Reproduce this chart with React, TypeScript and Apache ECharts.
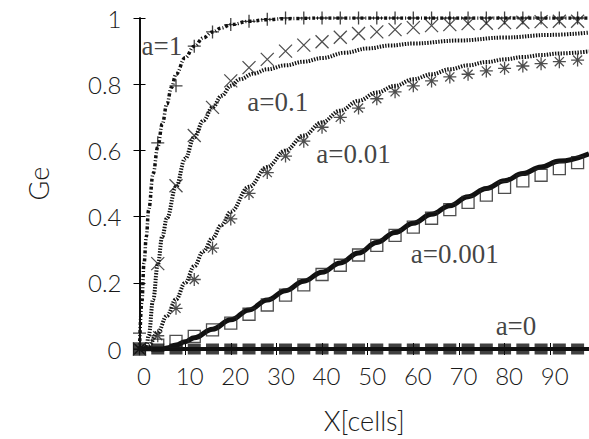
import React, { useEffect, useRef } from "react";
import * as echarts from "echarts";

// Simulation sample positions (cells)
const markerX = [0, 4, 8, 12, 16, 20, 24, 28, 32, 36, 40, 44, 48, 52, 56, 60, 64, 68, 72, 76, 80, 84, 88, 92, 96];

// Simulation markers
const simA1 = [0.048, 0.623, 0.795, 0.915, 0.958, 0.98, 0.99, 0.996, 1, 1, 1, 1, 1, 1, 1, 1, 1, 1, 1, 1, 1, 1, 1, 1, 1];
const simA01 = [0, 0.258, 0.493, 0.645, 0.73, 0.81, 0.85, 0.875, 0.9, 0.918, 0.928, 0.942, 0.953, 0.958, 0.965, 0.971, 0.977, 0.98, 0.983, 0.984, 0.986, 0.987, 0.989, 0.99, 0.99];
const simA001 = [0, 0.04, 0.123, 0.21, 0.305, 0.393, 0.47, 0.533, 0.583, 0.628, 0.67, 0.7, 0.728, 0.756, 0.777, 0.795, 0.81, 0.822, 0.83, 0.84, 0.848, 0.855, 0.862, 0.868, 0.873];
const simA0001 = [0, 0.012, 0.023, 0.038, 0.058, 0.078, 0.105, 0.133, 0.163, 0.194, 0.225, 0.253, 0.284, 0.313, 0.343, 0.368, 0.395, 0.421, 0.443, 0.465, 0.488, 0.508, 0.525, 0.545, 0.563];
const simA0 = [0, 0, 0, 0, 0, 0, 0, 0, 0, 0, 0, 0, 0, 0, 0, 0, 0, 0, 0, 0, 0, 0, 0, 0, 0];

// Model curves
const modelA1X = [0, 0.5, 1, 1.5, 2, 3, 4, 5, 6, 7, 8, 10, 12, 14, 16, 18, 20, 24, 28, 32, 40, 60, 98.5];
const modelA1Y = [0, 0.14, 0.26, 0.34, 0.42, 0.53, 0.61, 0.68, 0.74, 0.79, 0.83, 0.88, 0.915, 0.94, 0.958, 0.97, 0.98, 0.99, 0.995, 0.998, 1, 1, 1];

const modelA01X = [0, 1, 1.5, 2, 3, 4, 5, 6, 8, 10, 12, 14, 16, 18, 20, 22, 25, 28, 32, 36, 40, 45, 50, 55, 60, 70, 80, 90, 98.5];
const modelA01Y = [0, 0, 0.005, 0.04, 0.15, 0.255, 0.34, 0.395, 0.49, 0.575, 0.64, 0.69, 0.73, 0.765, 0.795, 0.815, 0.832, 0.845, 0.857, 0.868, 0.879, 0.895, 0.908, 0.917, 0.923, 0.932, 0.941, 0.949, 0.956];

const modelA001X = [0, 1.5, 2, 4, 6, 8, 10, 12, 14, 16, 18, 20, 24, 28, 32, 36, 40, 44, 48, 52, 56, 60, 64, 68, 72, 76, 80, 84, 88, 92, 98.5];
const modelA001Y = [0, 0, 0.01, 0.05, 0.1, 0.15, 0.2, 0.25, 0.295, 0.335, 0.375, 0.415, 0.49, 0.55, 0.6, 0.645, 0.685, 0.72, 0.75, 0.775, 0.795, 0.815, 0.83, 0.845, 0.857, 0.867, 0.875, 0.882, 0.888, 0.893, 0.899];

const modelA0001X = [0, 5, 6, 8, 10, 12, 16, 20, 24, 28, 32, 36, 40, 44, 48, 52, 56, 60, 64, 68, 72, 76, 80, 84, 88, 92, 98.5];
const modelA0001Y = [0, 0, 0.003, 0.012, 0.022, 0.034, 0.06, 0.088, 0.118, 0.148, 0.176, 0.205, 0.232, 0.26, 0.29, 0.322, 0.352, 0.38, 0.407, 0.433, 0.46, 0.485, 0.508, 0.53, 0.55, 0.568, 0.59];

const modelA0X = [0, 98.5];
const modelA0Y = [0, 0];

// Curve annotations (label text, anchor in data coords)
const annotationText = ["a=1", "a=0.1", "a=0.01", "a=0.001", "a=0"];
const annotationX = [4.9, 30.3, 46.9, 69.1, 82.5];
const annotationY = [0.914, 0.745, 0.589, 0.288, 0.069];

const xTitle = "X[cells]";
const yTitle = "Ge";

const zip = (xs: number[], ys: number[]) => xs.map((x, i) => [x, ys[i]]);

const PLUS = "path://M0,5L10,5M5,0L5,10";
const CROSS = "path://M0,0L10,10M10,0L0,10";
const STAR = "path://M0,5L10,5M5,0L5,10M1.5,1.5L8.5,8.5M8.5,1.5L1.5,8.5";

export default function App() {
  const ref = useRef<HTMLDivElement>(null);
  useEffect(() => {
    if (!ref.current) return;
    const chart = echarts.init(ref.current, null, { renderer: "svg" });
    const sansFont = { fontFamily: "Lato", fontWeight: 300, color: "#1a1a1a" };
    const lineSeries = (data: number[][], lineStyle: any, z = 2) => ({
      type: "line",
      data,
      showSymbol: false,
      symbol: "none",
      smooth: 0.4,
      smoothMonotone: "x",
      lineStyle: { color: "#111", ...lineStyle },
      z,
      silent: true,
    });
    const markerSeries = (data: number[][], symbol: string, size: any, itemStyle: any, z = 3) => ({
      type: "scatter",
      data,
      symbol,
      symbolSize: size,
      itemStyle,
      z,
      silent: true,
    });
    chart.setOption({
      animation: false,
      backgroundColor: "#fff",
      grid: { left: 139.5, top: 18, width: 454, height: 333, containLabel: false },
      xAxis: [
        {
          type: "value",
          min: 0,
          max: 98.5,
          interval: 10,
          position: "bottom",
          name: xTitle,
          nameLocation: "middle",
          nameGap: 58,
          nameTextStyle: { ...sansFont, fontSize: 27 },
          axisLine: { show: true, lineStyle: { color: "#000", width: 1.5 } },
          axisTick: { show: true, inside: true, length: 6, lineStyle: { color: "#000" } },
          axisLabel: { ...sansFont, fontSize: 24, margin: 14, showMaxLabel: false, padding: [0, 0, 0, 9] },
          splitLine: { show: false },
        },
        {
          type: "value",
          min: 0,
          max: 98.5,
          interval: 10,
          position: "top",
          axisLine: { show: true, lineStyle: { color: "#000", width: 1.5 } },
          axisTick: { show: true, inside: true, length: 6, lineStyle: { color: "#000" } },
          axisLabel: { show: false },
          splitLine: { show: false },
        },
      ],
      yAxis: [
        {
          type: "value",
          min: 0,
          max: 1,
          interval: 0.2,
          position: "left",
          name: yTitle,
          nameLocation: "middle",
          nameGap: 88,
          nameRotate: 90,
          nameTextStyle: { ...sansFont, fontSize: 27 },
          axisLine: { show: true, lineStyle: { color: "#000", width: 1.5 } },
          axisTick: { show: true, inside: true, length: 6, lineStyle: { color: "#000" } },
          axisLabel: { ...sansFont, fontSize: 24, margin: 18 },
          splitLine: { show: false },
        },
        {
          type: "value",
          min: 0,
          max: 1,
          interval: 0.2,
          position: "right",
          axisLine: { show: true, lineStyle: { color: "#000", width: 1.5 } },
          axisTick: { show: true, inside: true, length: 6, lineStyle: { color: "#000" } },
          axisLabel: { show: false },
          splitLine: { show: false },
        },
      ],
      series: [
        lineSeries(zip(modelA1X, modelA1Y), { width: 3.5, type: [3, 2, 1, 2] }),
        lineSeries(zip(modelA01X, modelA01Y), { width: 4, type: [1.4, 1.4] }),
        lineSeries(zip(modelA001X, modelA001Y), { width: 4, type: [1.4, 1.4] }),
        lineSeries(zip(modelA0001X, modelA0001Y), { width: 5 }),
        lineSeries(zip(modelA0X, modelA0Y), { width: 4 }),
        markerSeries(zip(markerX, simA1), PLUS, 13, { color: "none", borderColor: "#111", borderWidth: 1.3 }),
        markerSeries(zip(markerX, simA01), CROSS, 13, { color: "none", borderColor: "#222", borderWidth: 1.3 }),
        markerSeries(zip(markerX, simA001), STAR, 13, { color: "none", borderColor: "#222", borderWidth: 1.3 }),
        markerSeries(zip(markerX, simA0001), "rect", 12, { color: "rgba(0,0,0,0)", borderColor: "#222", borderWidth: 1.3 }),
        markerSeries(zip(markerX, simA0), "rect", [13, 11], { color: "#111", borderWidth: 0 }, 4),
        {
          type: "scatter",
          data: annotationText.map((t, i) => ({ name: t, value: [annotationX[i], annotationY[i]] })),
          symbolSize: 0,
          silent: true,
          z: 5,
          label: {
            show: true,
            position: "inside",
            formatter: "{b}",
            fontFamily: "Liberation Serif",
            fontSize: 27,
            color: "#111",
          },
        },
      ],
    });
    return () => chart.dispose();
  }, []);
  return <div ref={ref} style={{ position: "fixed", left: 0, top: 0, width: 589, height: 439 }} />;
}
